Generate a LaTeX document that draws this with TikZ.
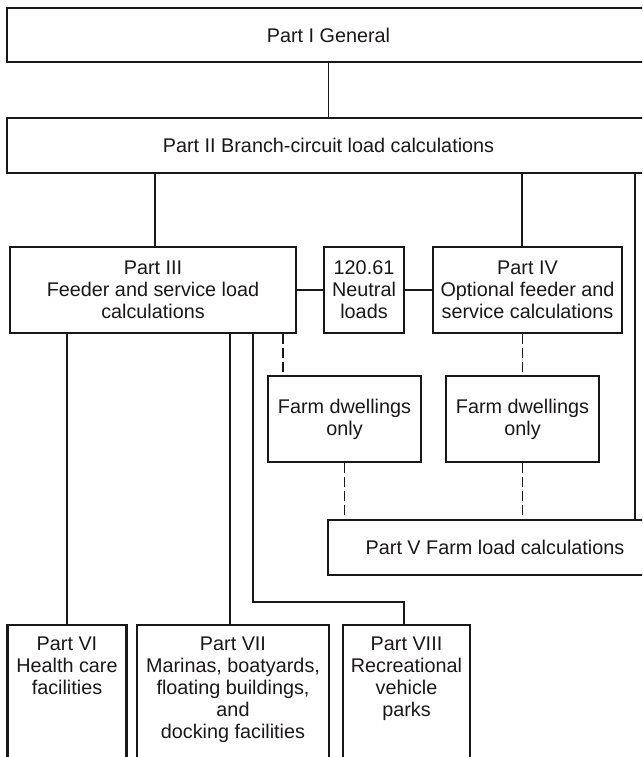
\documentclass[tikz,border=0pt]{standalone}
\usepackage{fontspec}
\setmainfont{Liberation Sans}
\newcommand\diagfont{\fontsize{19.8}{22}\selectfont}
\definecolor{ink}{HTML}{1A1718}
\begin{document}
\begin{tikzpicture}[x=1pt,y=-1pt,
  box/.style={draw=ink, line width=2.6pt, inner sep=0pt, align=center, font=\diagfont, text=ink},
  txt/.style={inner sep=0pt, align=center, font=\diagfont, text=ink, anchor=north},
  conn/.style={draw=ink, line width=1.9pt},
  dconn/.style={draw=ink, line width=1.9pt, dash pattern=on 10pt off 4pt}]
\useasboundingbox (0,0) rectangle (642,757);
\clip (0,0) rectangle (642,757);
% boxes
\node[box, minimum width=643pt, minimum height=54pt] (p1) at (328.5,35) {Part I General};
\node[box, minimum width=643pt, minimum height=55pt] (p2) at (328.5,145.5) {Part II Branch-circuit load calculations};
\node[box, minimum width=286pt, minimum height=86pt] (p3) at (153,290) {Part III\\Feeder and service load\\calculations};
\node[box, minimum width=80pt, minimum height=86pt] (n) at (364,290) {120.61\\Neutral\\loads};
\node[box, minimum width=189pt, minimum height=86pt] (p4) at (527.5,290) {Part IV\\Optional feeder and\\service calculations};
\node[box, minimum width=153pt, minimum height=86pt] (f1) at (344.5,419) {Farm dwellings\\only};
\node[box, minimum width=153pt, minimum height=86pt] (f2) at (522.5,419) {Farm dwellings\\only};
\node[box, minimum width=334pt, minimum height=55pt] (p5) at (495,547.5) {Part V Farm load calculations};
\node[box, minimum width=119pt, minimum height=150pt] (p6) at (67,700) {};
\node[box, minimum width=192pt, minimum height=150pt] (p7) at (233,700) {};
\node[box, minimum width=127pt, minimum height=150pt] (p8) at (406.5,700) {};
\node[txt] (p6t) at ([yshift=-13pt]p6.north) {Part VI\\Health care\\facilities};
\node[txt] (p7t) at ([yshift=-13pt]p7.north) {Part VII\\Marinas, boatyards,\\floating buildings,\\and\\docking facilities};
\node[txt] (p8t) at ([yshift=-13pt]p8.north) {Part VIII\\Recreational\\vehicle\\parks};
\coordinate (rx) at (635,0);
% connectors
\draw[conn] (p1.south) -- (p2.north);
\draw[conn] ([xshift=2pt]p3.north |- p2.south) -- ([xshift=2pt]p3.north);
\draw[conn] ([xshift=-5.5pt]p4.north |- p2.south) -- ([xshift=-5.5pt]p4.north);
\draw[conn] (p2.south -| rx) -- (p5.north -| rx);
\draw[conn] (p3.east) -- (n.west);
\draw[conn] (n.east) -- (p4.west);
\draw[conn] (p6.north |- p3.south) -- (p6.north);
\draw[conn] ([xshift=-3pt]p7.north |- p3.south) -- ([xshift=-3pt]p7.north);
\draw[conn] ([xshift=-2.5pt]p8.north) -- ++(0,-22) -| ([xshift=100pt]p3.south);
\draw[dconn] ([xshift=130pt]p3.south) -- ([xshift=130pt]p3.south |- f1.north);
\draw[dconn] (f2.north |- p4.south) -- (f2.north);
\draw[dconn] (f1.south) -- (f1.south |- p5.north);
\draw[dconn] (f2.south) -- (f2.south |- p5.north);
\end{tikzpicture}
\end{document}
